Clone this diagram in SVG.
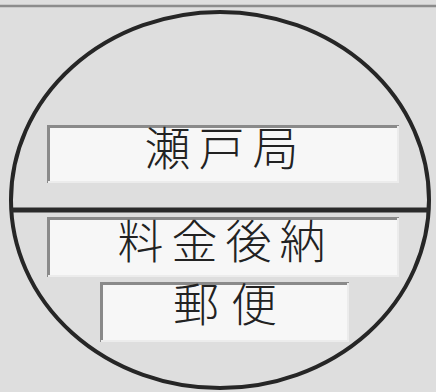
<svg xmlns="http://www.w3.org/2000/svg" width="436" height="392" viewBox="0 0 436 392">
<style>
.box{fill:#f7f7f7;stroke:none}
.edge-dark{stroke:#8a8a8a;stroke-width:3;fill:none}
.edge-light{stroke:#ececec;stroke-width:2;fill:none}
.lbl{font-family:"Noto Sans CJK JP","Noto Sans CJK SC",sans-serif;font-size:46px;font-weight:300;fill:#222;text-anchor:middle;letter-spacing:8px}
</style>
<rect x="0" y="0" width="436" height="392" fill="#dedede"/>
<line x1="0" y1="6" x2="436" y2="6" stroke="#8c8c8c" stroke-width="2.5"/>
<g id="connectors">
<ellipse cx="220" cy="200" rx="209" ry="188" fill="none" stroke="#262626" stroke-width="4"/>
<line x1="11" y1="210" x2="429" y2="210" stroke="#2a2a2a" stroke-width="5"/>
</g>
<g id="node-seto">
<rect class="box" x="47" y="125" width="352" height="58"/>
<path class="edge-dark" d="M48.5,183 V126.5 H399"/>
<path class="edge-light" d="M48,182 H398 V126"/>
<text class="lbl" x="225.5" y="165">瀬戸局</text>
</g>
<g id="node-ryokin">
<rect class="box" x="47" y="217" width="352" height="60"/>
<path class="edge-dark" d="M48.5,277 V218.5 H399"/>
<path class="edge-light" d="M48,276 H398 V218"/>
<text class="lbl" x="225.5" y="258">料金後納</text>
</g>
<g id="node-yubin">
<rect class="box" x="100" y="282" width="249" height="60"/>
<path class="edge-dark" d="M101.5,342 V283.5 H349"/>
<path class="edge-light" d="M101,341 H348 V283"/>
<text class="lbl" x="231" y="321" style="letter-spacing:12px">郵便</text>
</g>
</svg>
